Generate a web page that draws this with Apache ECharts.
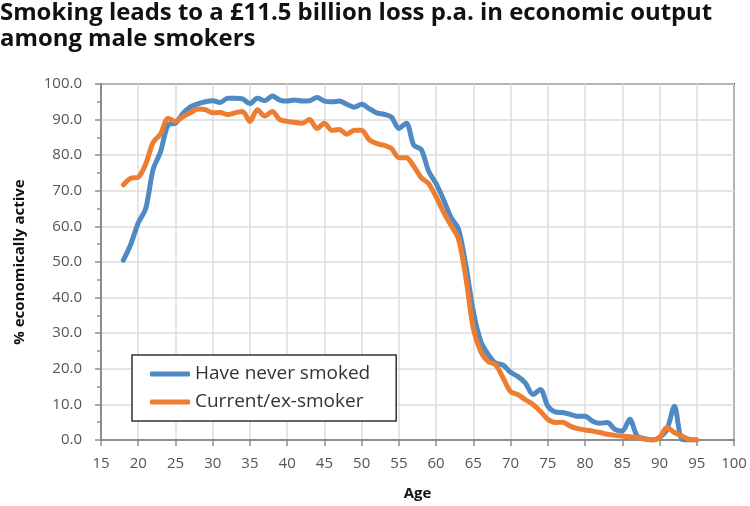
<!DOCTYPE html>
<html><head><meta charset="utf-8">
<script src="https://cdn.jsdelivr.net/npm/echarts@6/dist/echarts.min.js"></script>
<style>html,body{margin:0;padding:0;background:#fff}#c{width:750px;height:506px}</style>
</head><body><div id="c"></div>
<script>
const ages = [];
for (let a = 18; a <= 95; a++) ages.push(a);
const neverSmoked = [50.5,55,61,65,76,81,88.5,89,91.7,93.6,94.4,95,95.3,94.8,96,96,95.8,94.5,96,95.3,96.6,95.5,95.2,95.5,95.2,95.3,96.2,95.2,95,95.2,94.3,93.5,94.3,93.1,91.9,91.5,90.7,87.5,89,82.8,81.6,75.5,72,67.5,62.5,59.3,49,36,27.7,24,21.6,21,19,17.8,16,12.8,14.2,9.5,7.9,7.7,7.2,6.7,6.7,5.3,4.7,4.9,3,2.5,5.8,1.1,0.4,0,0.7,3,9.5,0.2,0,0];
const smoker = [71.7,73.5,73.8,77.5,83.6,86,90.3,89.5,90.8,91.9,93,92.8,91.9,92,91.4,91.9,92.3,89.5,92.8,91,92.3,90,89.5,89.2,89,90,87.5,89,87,87.2,85.9,87,87,84.4,83.3,82.8,81.9,79.3,79.3,76.9,73.7,72,68.3,64,60.3,56.5,45.5,31.3,24.8,22,21.1,17.4,13.6,12.7,11.3,10,8.1,5.8,4.9,5,3.9,3.2,2.8,2.5,2.1,1.6,1.3,1.1,0.9,0.7,0.2,0,0.7,3.5,2.1,1.1,0.2,0];
const seriesNames = ['Have never smoked', 'Current/ex-smoker'];
const titleText = 'Smoking leads to a £11.5 billion loss p.a. in economic output\namong male smokers';

const font = '"Open Sans", Lato, sans-serif';
const chart = echarts.init(document.getElementById('c'), null, {renderer: 'canvas'});
chart.setOption({
  animation: false,
  backgroundColor: '#fff',
  title: {
    text: titleText, left: 0, top: 0, padding: [0, 0, 0, 0],
    textStyle: {fontFamily: font, fontWeight: 'bold', fontSize: 23.9, color: '#111', lineHeight: 26}
  },
  grid: {left: 101, right: 16, top: 84, bottom: 64, show: true, borderColor: '#3a3a3a', borderWidth: 2, backgroundColor: 'transparent'},
  legend: {
    orient: 'vertical', left: 132, top: 355,
    data: [{name: seriesNames[0], icon: 'roundRect'}, {name: seriesNames[1], icon: 'roundRect'}],
    itemWidth: 40, itemHeight: 5, itemGap: 6, itemStyle: {borderWidth: 0},
    padding: [8, 26, 8, 18],
    borderColor: '#333', borderWidth: 1.5, backgroundColor: '#fff',
    textStyle: {fontFamily: font, fontSize: 19, color: '#333', lineHeight: 22}
  },
  xAxis: {
    type: 'value', min: 15, max: 100, interval: 5,
    name: 'Age', nameLocation: 'middle', nameGap: 46,
    nameTextStyle: {fontFamily: font, fontWeight: 'bold', fontSize: 15, color: '#111'},
    axisLine: {lineStyle: {color: '#8c8c8c', width: 2}},
    axisTick: {show: true, length: 6, lineStyle: {color: '#8c8c8c', width: 1.5}},
    axisLabel: {fontFamily: font, fontSize: 15, color: '#555', margin: 16},
    splitLine: {show: true, lineStyle: {color: '#dcdcdc', width: 1.5}}
  },
  yAxis: {
    type: 'value', min: 0, max: 100, interval: 10,
    name: '% economically active', nameLocation: 'middle', nameGap: 74, nameRotate: 90,
    nameTextStyle: {fontFamily: font, fontWeight: 'bold', fontSize: 15, color: '#111'},
    axisLine: {show: true, lineStyle: {color: '#8c8c8c', width: 2}},
    axisTick: {show: true, length: 6, lineStyle: {color: '#8c8c8c', width: 1.5}},
    minorTick: {show: true, splitNumber: 2, length: 4, lineStyle: {color: '#8c8c8c', width: 1.5}},
    axisLabel: {fontFamily: font, fontSize: 15, color: '#555', margin: 19, formatter: v => v.toFixed(1)},
    splitLine: {show: true, lineStyle: {color: '#dcdcdc', width: 1.5}}
  },
  series: [
    {name: seriesNames[0], type: 'line', smooth: 0.3, symbol: 'none', color: '#4f8ac4',
     lineStyle: {width: 5, color: '#4f8ac4', cap: 'round', join: 'round'},
     data: ages.map((a, i) => [a, neverSmoked[i]])},
    {name: seriesNames[1], type: 'line', smooth: 0.3, symbol: 'none', color: '#ed7d31',
     lineStyle: {width: 5, color: '#ed7d31', cap: 'round', join: 'round'},
     data: ages.map((a, i) => [a, smoker[i]])}
  ]
});
</script></body></html>
